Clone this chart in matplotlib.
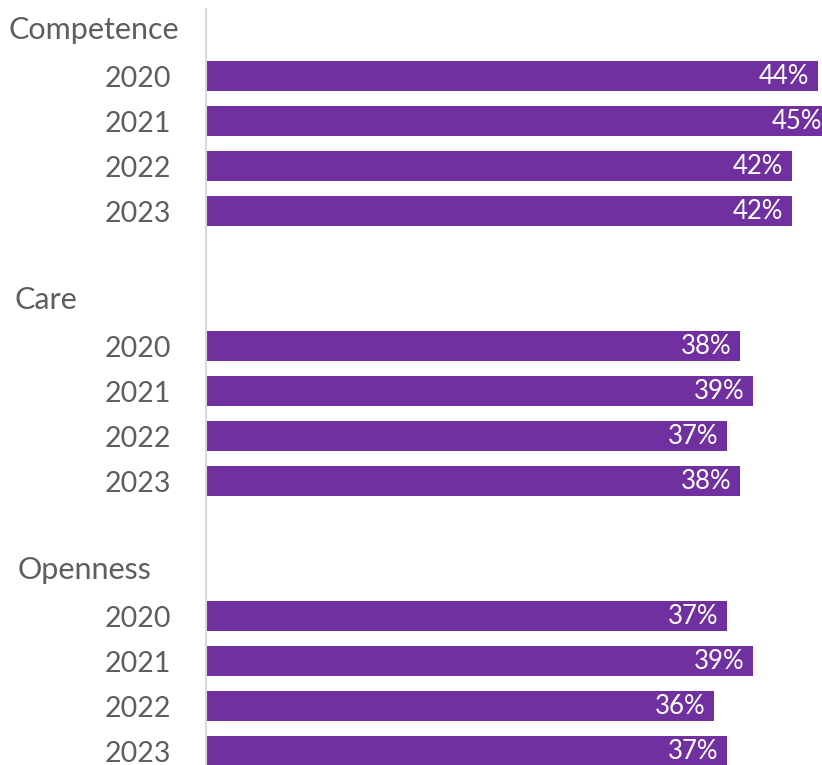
import matplotlib
matplotlib.use("Agg")
import matplotlib.pyplot as plt
import matplotlib.transforms as mtransforms
import numpy as np

# ---------------------------------- data ----------------------------------
groups = ["Competence", "Care", "Openness"]
years = ["2020", "2021", "2022", "2023"]
competence = [44, 45, 42, 42]
care = [38, 39, 37, 38]
openness = [37, 39, 36, 37]

# --------------------------------- styling --------------------------------
purple = "#7030a0"
grey_txt = "#5e5e5e"
plt.rcParams["font.family"] = ["Lato", "DejaVu Sans"]

XMIN, XMAX = -3.2, 44.3

fig = plt.figure(figsize=(8.22, 7.65), dpi=100)
ax = fig.add_axes([206 / 822, 0, 1 - 206 / 822, 756 / 765])

# each group: header row, 4 year rows, one empty row
series = [competence, care, openness]
ypos, yvals, ylabels, header_rows = [], [], [], []
row = 0
for name, vals in zip(groups, series):
    header_rows.append((row, name))
    row += 1
    for yr, v in zip(years, vals):
        ypos.append(row)
        yvals.append(v)
        ylabels.append(yr)
        row += 1
    row += 1

yvals = np.array(yvals, dtype=float)
ax.barh(ypos, yvals - XMIN, left=XMIN, height=0.67, color=purple)

for y, v in zip(ypos, yvals):
    ax.annotate(f"{v:.0f}%", xy=(v, y), xytext=(-6.5, 0), textcoords="offset points",
                ha="right", va="center", color="white", fontsize=18.5,
                annotation_clip=False)

trans = mtransforms.blended_transform_factory(fig.transFigure, ax.transData)
header_x = {"Competence": 8, "Care": 15, "Openness": 18}
for r, name in header_rows:
    ax.text(header_x[name] / 822, r - 0.02, name, transform=trans, ha="left", va="center",
            fontsize=22, color=grey_txt, clip_on=False)

ax.set_yticks(ypos)
ax.set_yticklabels(ylabels, fontsize=20.5, color=grey_txt)
ax.tick_params(axis="y", length=0, pad=25)
ax.set_xticks([])
ax.set_xlim(XMIN, XMAX)
ax.set_ylim(16.31, -0.489)

for s in ["top", "right", "bottom"]:
    ax.spines[s].set_visible(False)
ax.spines["left"].set_color("#d9d9d9")
ax.spines["left"].set_linewidth(1.5)

fig.savefig("out.png", dpi=100)
